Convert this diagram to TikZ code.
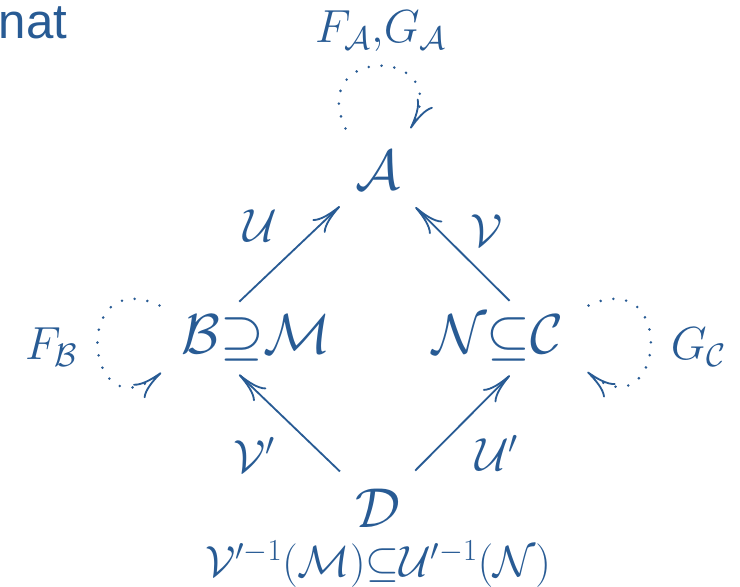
\documentclass[tikz,border=0pt]{standalone}
\usepackage{fix-cm}
\usepackage{amsmath,amssymb}
\usepackage{fontspec}
\newfontfamily\titlefont{Liberation Sans}
\usepackage{xcolor}
\usepackage{tikz}
\usetikzlibrary{arrows.meta,positioning}
\definecolor{slideblue}{RGB}{40,91,148}

\begin{document}
\begin{tikzpicture}[x=0.025cm,y=0.025cm,line width=1.3pt,color=slideblue,>={Computer Modern Rightarrow[length=21pt,width=13pt,line width=1.3pt]}]
\tikzstyle{obj}=[circle,inner sep=0pt,minimum size=73.7pt,font=\fontsize{40}{48}\selectfont]
\tikzstyle{lbl}=[font=\fontsize{33}{40}\selectfont]
\tikzstyle{loopy}=[->,line width=2pt,line cap=round,dash pattern=on 0pt off 9.2pt]
\useasboundingbox (0,0) rectangle (740,-586);
\node[anchor=base west,inner sep=0pt,font=\titlefont\fontsize{35}{42}\selectfont] (title) at (-2,-38) {nat};
\node[obj] (A) at (378,-170) {$\mathcal{A}$};
\node[obj] (B) at (201,-338) {$\mathcal{B}\rlap{${\supseteq}\mathcal{M}$}$};
\node[obj] (C) at (547,-338) {$\llap{$\mathcal{N}{\subseteq}$}\mathcal{C}$};
\node[obj] (D) at (378,-508) {$\mathcal{D}$};
\node[lbl,font=\fontsize{31}{37}\selectfont,inner sep=0pt,below=23pt of D.center] (pre) {$\mathcal{V}'^{-1}(\mathcal{M}){\subseteq}\mathcal{U}'^{-1}(\mathcal{N})$};
\draw[->] (B) -- node[lbl,above left=7pt] {$\mathcal{U}$} (A);
\draw[->] (C) -- node[lbl,above right=2pt] {$\mathcal{V}$} (A);
\draw[->] (D) -- node[lbl,below left=9pt] {$\mathcal{V}'$} (B);
\draw[->] (D) -- node[lbl,below right=7pt] {$\mathcal{U}'$} (C);
\draw[loopy] (A.128) to[out=115,in=60,distance=67pt] node[lbl,above=6pt] {$F_{\mathcal{A}}{,}G_{\mathcal{A}}$} (A.52);
\draw[loopy] (B.142) to[out=155,in=220,distance=71pt] node[lbl,left=10pt] {$F_{\mathcal{B}}$} (B.221);
\draw[loopy] (C.38) to[out=25,in=320,distance=71pt] node[lbl,right=10pt] {$G_{\mathcal{C}}$} (C.320);
\end{tikzpicture}
\end{document}
